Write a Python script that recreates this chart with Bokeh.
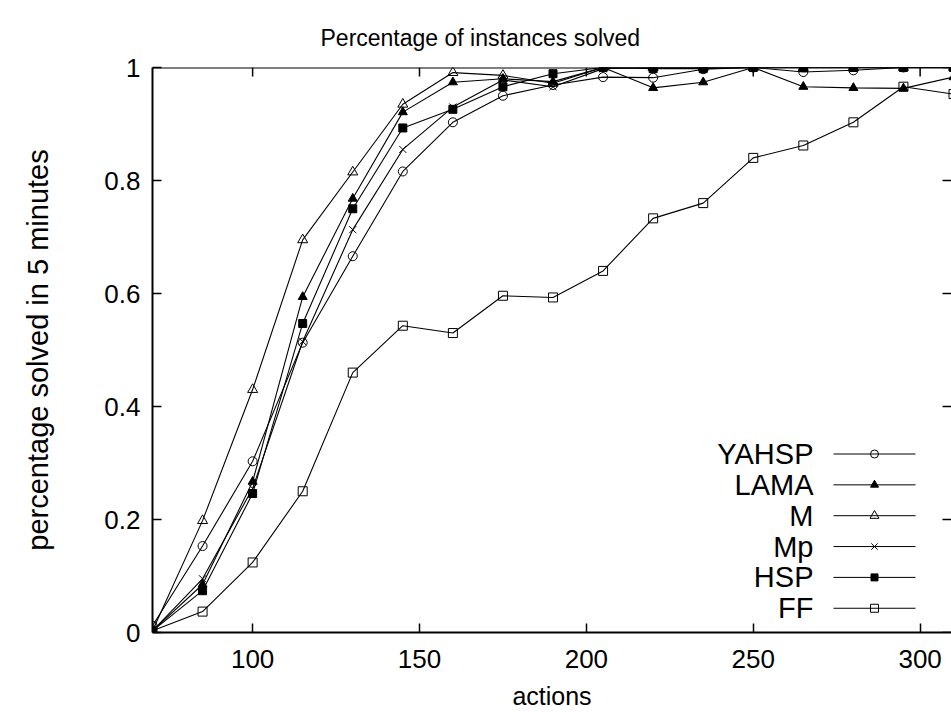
from bokeh.plotting import figure
from bokeh.models import FixedTicker, Range1d, Label, NumeralTickFormatter, Span
from bokeh.embed import file_html
from bokeh.resources import INLINE

# ---------------- data ----------------
actions = [70, 85, 100, 115, 130, 145, 160, 175, 190, 205, 220, 235, 250, 265, 280, 295, 310]
yahsp = [0.012, 0.153, 0.303, 0.513, 0.666, 0.816, 0.903, 0.950, 0.969, 0.983, 0.982, 0.997, 1.0, 0.992, 0.995, 1.0, 1.0]
lama = [0.003, 0.085, 0.267, 0.594, 0.768, 0.921, 0.974, 0.980, 0.975, 1.0, 0.964, 0.974, 1.0, 0.966, 0.964, 0.963, 0.983]
m = [0.003, 0.198, 0.430, 0.695, 0.815, 0.935, 0.991, 0.986, 0.972, 1.0, 1.0, 1.0, 1.0, 1.0, 1.0, 1.0, 1.0]
mp = [0.003, 0.095, 0.255, 0.515, 0.713, 0.855, 0.930, 0.978, 0.966, 0.998, 1.0, 1.0, 1.0, 1.0, 1.0, 1.0, 1.0]
hsp = [0.003, 0.074, 0.246, 0.547, 0.750, 0.893, 0.926, 0.966, 0.989, 1.0, 0.998, 0.998, 1.0, 1.0, 1.0, 1.0, 1.0]
ff = [0.003, 0.037, 0.124, 0.250, 0.460, 0.543, 0.530, 0.596, 0.593, 0.640, 0.733, 0.760, 0.840, 0.862, 0.903, 0.966, 0.953]

series_names = ["YAHSP", "LAMA", "M", "Mp", "HSP", "FF"]
series_values = [yahsp, lama, m, mp, hsp, ff]

x_ticks = [100, 150, 200, 250, 300]
x_tick_labels = ["100", "150", "200", "250", "300"]
y_ticks = [0, 0.2, 0.4, 0.6, 0.8, 1]
y_tick_labels = ["0", "0.2", "0.4", "0.6", "0.8", "1"]

title_text = "Percentage of instances solved"
x_label = "actions"
y_label = "percentage solved in 5 minutes"

# ---------------- styles ----------------
FONT = "Liberation Sans"
TICK_FS = "26px"
XLABEL_FS = "25px"
YLABEL_FS = "29px"
TITLE_FS = "23px"
LEGEND_FS = "29px"
markers = {
    "YAHSP": dict(marker="circle", size=9, fill_color=None, line_color="black", line_width=1),
    "LAMA": dict(marker="triangle", size=9, fill_color="black", line_color="black", line_width=1),
    "M": dict(marker="triangle", size=10, fill_color=None, line_color="black", line_width=1),
    "Mp": dict(marker="x", size=10, line_color="black", line_width=1),
    "HSP": dict(marker="square", size=8, fill_color="black", line_color="black", line_width=1),
    "FF": dict(marker="square", size=9, fill_color=None, line_color="black", line_width=1),
}

# frame geometry (page pixels)
FRAME_LEFT, FRAME_TOP = 152, 67
FRAME_W, FRAME_H = 799, 565
FRAME_BOTTOM = FRAME_TOP + FRAME_H
PX_PER_UNIT = 3.3375
TICK_LEN = 9
X0 = 70
X1 = X0 + FRAME_W / PX_PER_UNIT
Y0, Y1 = 0, 1
X_PER_PX = (X1 - X0) / FRAME_W
Y_PER_PX = (Y1 - Y0) / FRAME_H


def dx(px):
    return X0 + (px - FRAME_LEFT) * X_PER_PX


def dy(py):
    return Y0 + (FRAME_BOTTOM - py) * Y_PER_PX


p = figure(frame_width=FRAME_W, frame_height=FRAME_H,
           x_range=Range1d(X0, X1), y_range=Range1d(Y0, Y1),
           min_border_left=FRAME_LEFT, min_border_right=0,
           min_border_top=FRAME_TOP, min_border_bottom=90,
           output_backend="svg", toolbar_location=None)
p.outline_line_color = None
p.xgrid.visible = False
p.ygrid.visible = False
p.background_fill_color = "white"
p.border_fill_color = "white"

# title (centred on the canvas like gnuplot, not on the frame)
p.title.text = title_text
p.title.text_font = FONT
p.title.text_font_size = TITLE_FS
p.title.text_font_style = "normal"
p.title.text_color = "black"
p.title.align = "left"
p.title.offset = 480 - FRAME_LEFT - 160
p.title.standoff = 34


def style_axis(ax):
    ax.axis_line_color = "black"
    ax.axis_line_width = 2
    ax.major_tick_in = TICK_LEN
    ax.major_tick_out = 0
    ax.major_tick_line_color = "black"
    ax.major_tick_line_width = 1.5
    ax.minor_tick_line_color = None
    ax.major_label_text_font = FONT
    ax.major_label_text_font_size = TICK_FS
    ax.major_label_text_color = "black"
    ax.axis_label_text_font = FONT
    ax.axis_label_text_font_style = "normal"
    ax.axis_label_text_color = "black"


xa = p.xaxis[0]
style_axis(xa)
xa.ticker = FixedTicker(ticks=x_ticks)
xa.major_label_overrides = dict(zip(x_ticks, x_tick_labels))
xa.major_label_standoff = 17
xa.axis_label = x_label
xa.axis_label_text_font_size = XLABEL_FS
xa.axis_label_standoff = 11

ya = p.yaxis[0]
style_axis(ya)
ya.ticker = FixedTicker(ticks=y_ticks)
ya.formatter = NumeralTickFormatter(format="0.[0]")
ya.major_label_overrides = dict(zip(y_ticks, y_tick_labels))
ya.major_label_standoff = 12
ya.axis_label = y_label
ya.axis_label_text_font_size = YLABEL_FS
ya.axis_label_standoff = 47

# top border and mirrored ticks (gnuplot style)
p.add_layout(Span(location=Y1, dimension="width", line_color="black", line_width=2))
p.segment(x0=x_ticks, y0=[Y1] * len(x_ticks), x1=x_ticks,
          y1=[Y1 - TICK_LEN * Y_PER_PX] * len(x_ticks), line_color="black", line_width=1.5)
p.segment(x0=[X1] * len(y_ticks), y0=y_ticks, x1=[X1 - TICK_LEN * X_PER_PX] * len(y_ticks),
          y1=y_ticks, line_color="black", line_width=1.5)

# series
for name, vals in zip(series_names, series_values):
    p.line(actions, vals, line_color="black", line_width=1.1)
    p.scatter(actions, vals, **markers[name])

# gnuplot-style key (text left, sample right)
LEG_TEXT_RIGHT = 813
LEG_LINE_X0, LEG_LINE_X1, LEG_MARK_X = 833, 915, 874
LEG_ROW0, LEG_ROW_STEP = 453.5, 30.85
for i, name in enumerate(series_names):
    ry = dy(LEG_ROW0 + i * LEG_ROW_STEP)
    p.line([dx(LEG_LINE_X0), dx(LEG_LINE_X1)], [ry, ry], line_color="black", line_width=1)
    mk = dict(markers[name])
    mk["size"] = mk["size"] - 1
    p.scatter([dx(LEG_MARK_X)], [ry], **mk)
    p.add_layout(Label(x=dx(LEG_TEXT_RIGHT), y=ry, text=name, text_align="right",
                       text_baseline="middle", text_font=FONT, text_font_size=LEGEND_FS,
                       text_color="black"))

open("out.html", "w").write(file_html(p, INLINE))
